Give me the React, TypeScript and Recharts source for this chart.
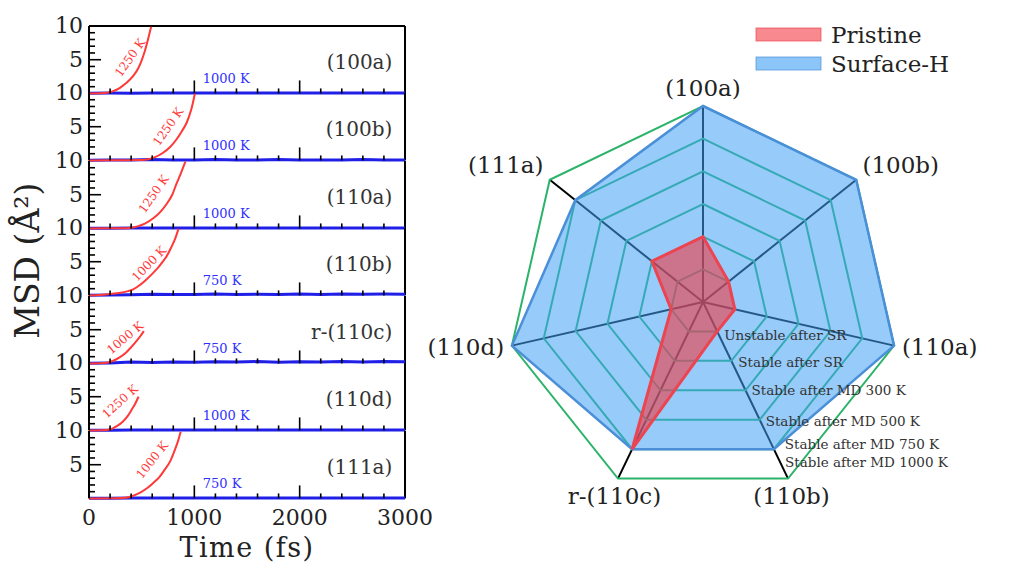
import React from 'react';
import {
  LineChart, Line, XAxis, YAxis, ReferenceDot, ReferenceLine,
  RadarChart, Radar, PolarGrid, PolarAngleAxis, PolarRadiusAxis, Legend,
} from 'recharts';

// ---------- data ----------
const facets = ['(100a)', '(100b)', '(110a)', '(110b)', 'r-(110c)', '(110d)', '(111a)'];
const pristineLevel = [2, 1, 1, 1, 5, 1, 2];
const surfaceHLevel = [6, 6, 6, 5, 5, 6, 5];
const stabilityLevels = [
  'Unstable after SR',
  'Stable after SR',
  'Stable after MD 300 K',
  'Stable after MD 500 K',
  'Stable after MD 750 K',
  'Stable after MD 1000 K',
];

const pristineTemp = ['1250 K', '1250 K', '1250 K', '1000 K', '1000 K', '1250 K', '1000 K'];
const surfaceHTemp = ['1000 K', '1000 K', '1000 K', '750 K', '750 K', '1000 K', '750 K'];

// MSD curves: [time (fs), MSD (Å²)]
const msdPristine100a = [[0, 0], [100, 0.02], [170, 0.1], [230, 0.35], [290, 0.8], [350, 1.5], [420, 2.6], [470, 3.8], [500, 4.9], [530, 6.3], [560, 8.0], [590, 9.9]];
const msdPristine100b = [[0, 0], [300, 0.02], [450, 0.05], [550, 0.15], [620, 0.45], [700, 1.1], [770, 2.0], [830, 3.1], [880, 4.3], [930, 5.7], [970, 7.5], [1005, 9.9]];
const msdPristine110a = [[0, 0], [300, 0.02], [400, 0.1], [460, 0.3], [530, 0.7], [610, 1.5], [680, 2.5], [740, 3.7], [790, 5.0], [830, 6.6], [870, 8.1], [915, 9.9]];
const msdPristine110b = [[0, 0], [100, 0.05], [200, 0.2], [300, 0.4], [360, 0.6], [420, 0.9], [480, 1.5], [540, 2.3], [600, 3.2], [650, 4.0], [700, 5.0], [740, 5.9], [780, 7.1], [820, 8.5], [850, 9.9]];
const msdPristine110c = [[0, 0], [100, 0.02], [170, 0.1], [230, 0.4], [290, 0.9], [350, 1.6], [400, 2.4], [450, 3.3], [490, 4.1], [520, 4.8]];
const msdPristine110d = [[0, 0], [120, 0.02], [200, 0.15], [260, 0.6], [320, 1.3], [370, 2.2], [410, 3.2], [440, 4.0], [470, 5.0]];
const msdPristine111a = [[0, 0], [250, 0.02], [350, 0.1], [420, 0.4], [490, 0.9], [550, 1.5], [610, 2.3], [670, 3.2], [720, 4.3], [770, 5.5], [810, 7.0], [845, 8.5], [870, 9.9]];

const msdSurfaceH100a = [[0, 0.02], [200, 0.05], [400, 0.04], [600, 0.06], [800, 0.05], [1000, 0.07], [1200, 0.05], [1400, 0.06], [1600, 0.05], [1800, 0.07], [2000, 0.06], [2200, 0.05], [2400, 0.07], [2600, 0.06], [2800, 0.05], [3000, 0.06]];
const msdSurfaceH100b = [[0, 0.02], [200, 0.05], [400, 0.06], [600, 0.12], [800, 0.06], [1000, 0.08], [1200, 0.12], [1400, 0.06], [1600, 0.07], [1800, 0.12], [2000, 0.07], [2200, 0.06], [2400, 0.08], [2600, 0.12], [2800, 0.06], [3000, 0.07]];
const msdSurfaceH110a = [[0, 0.02], [200, 0.04], [400, 0.05], [600, 0.06], [800, 0.05], [1000, 0.06], [1200, 0.07], [1400, 0.05], [1600, 0.06], [1800, 0.06], [2000, 0.05], [2200, 0.07], [2400, 0.06], [2600, 0.05], [2800, 0.06], [3000, 0.06]];
const msdSurfaceH110b = [[0, 0.02], [200, 0.08], [400, 0.1], [600, 0.18], [800, 0.12], [1000, 0.15], [1200, 0.22], [1400, 0.14], [1600, 0.18], [1800, 0.12], [2000, 0.2], [2200, 0.15], [2400, 0.22], [2600, 0.16], [2800, 0.2], [3000, 0.18]];
const msdSurfaceH110c = [[0, 0.02], [200, 0.08], [400, 0.2], [600, 0.15], [800, 0.22], [1000, 0.18], [1200, 0.25], [1400, 0.2], [1600, 0.28], [1800, 0.18], [2000, 0.25], [2200, 0.2], [2400, 0.28], [2600, 0.22], [2800, 0.3], [3000, 0.25]];
const msdSurfaceH110d = [[0, 0.02], [200, 0.04], [400, 0.05], [600, 0.05], [800, 0.06], [1000, 0.05], [1200, 0.06], [1400, 0.05], [1600, 0.06], [1800, 0.05], [2000, 0.06], [2200, 0.05], [2400, 0.06], [2600, 0.05], [2800, 0.06], [3000, 0.05]];
const msdSurfaceH111a = [[0, 0.02], [200, 0.04], [400, 0.05], [600, 0.05], [800, 0.06], [1000, 0.05], [1200, 0.06], [1400, 0.06], [1600, 0.05], [1800, 0.06], [2000, 0.05], [2200, 0.06], [2400, 0.05], [2600, 0.06], [2800, 0.05], [3000, 0.06]];

const msdPristine = [msdPristine100a, msdPristine100b, msdPristine110a, msdPristine110b, msdPristine110c, msdPristine110d, msdPristine111a];
const msdSurfaceH = [msdSurfaceH100a, msdSurfaceH100b, msdSurfaceH110a, msdSurfaceH110b, msdSurfaceH110c, msdSurfaceH110d, msdSurfaceH111a];

const xTicks = [0, 200, 400, 600, 800, 1000, 1200, 1400, 1600, 1800, 2000, 2200, 2400, 2600, 2800, 3000];
const xLabelTicks = [0, 1000, 2000, 3000];
const yTicks = [1, 2, 3, 4, 5, 6, 7, 8, 9, 10];
const yLabelTicks = [5, 10];

// ---------- annotation placement (data space) ----------
const redLabelSpot = [
  { t: 390, v: 5.3, angle: -55 },
  { t: 752, v: 5.0, angle: -55 },
  { t: 615, v: 5.1, angle: -55 },
  { t: 571, v: 4.7, angle: -46 },
  { t: 343, v: 3.8, angle: -40 },
  { t: 295, v: 4.3, angle: -42 },
  { t: 600, v: 5.7, angle: -52 },
];
const blueLabelSpot = { t: 1080, v: 2.2 };
const nameSpot = { t: 2880, v: 4.7 };

// ---------- styles ----------
const SERIF = '"DejaVu Serif", serif';
const RED = '#ff3838';
const BLUE = '#1f1fe8';
const PANEL_TOP = 26;
const PANEL_H = 67.43;
const M_TOP = 15;
const M_BOTTOM = 14;
const X_AXIS_H = 1;

const toPoints = (arr: number[][]) => arr.map(([t, v]) => ({ t, v }));

const renderXTick = (p: any, showLabel: boolean) => {
  const { x, payload } = p;
  const y = p.y;
  const v = payload.value;
  const major = v % 1000 === 0;
  return (
    <g>
      {v > 0 && v < 3000 && (
        <line x1={x} x2={x} y1={y} y2={y - (major ? 13 : 5)} stroke="#000" strokeWidth={1.6} />
      )}
      {showLabel && xLabelTicks.includes(v) && (
        <text x={x} y={y + 19} textAnchor="middle" dominantBaseline="central" fontFamily={SERIF} fontSize={22} fill="#222">
          {v}
        </text>
      )}
    </g>
  );
};

const renderYTick = (p: any) => {
  const { x, y, payload } = p;
  const v = payload.value;
  const major = v === 5;
  return (
    <g>
      {v < 10 && <line x1={x} x2={x + (major ? 12 : 6)} y1={y} y2={y} stroke="#000" strokeWidth={1.6} />}
      {yLabelTicks.includes(v) && (
        <text x={x - 6} y={y} textAnchor="end" dominantBaseline="central" fontFamily={SERIF} fontSize={22} fill="#222">
          {v}
        </text>
      )}
    </g>
  );
};

const centerOf = (vb: any) => ({ x: vb.x + (vb.width || 0) / 2, y: vb.y + (vb.height || 0) / 2 });

function MsdPanel({ index }: { index: number }) {
  const top = PANEL_TOP + index * PANEL_H;
  const isFirst = index === 0;
  const isLast = index === facets.length - 1;
  const spot = redLabelSpot[index];
  return (
    <div style={{ position: 'absolute', left: 0, top: top - M_TOP }}>
      <LineChart width={460} height={PANEL_H + M_TOP + M_BOTTOM + X_AXIS_H} margin={{ top: M_TOP, right: 55, bottom: M_BOTTOM, left: 0 }}>
        <XAxis
          xAxisId="x"
          type="number"
          dataKey="t"
          domain={[0, 3000]}
          ticks={xTicks}
          interval={0}
          height={X_AXIS_H}
          tickSize={0}
          tickMargin={0}
          tickLine={false}
          axisLine={false}
          tick={(p: any) => renderXTick(p, isLast)}
          label={
            isLast
              ? (lp: any) => {
                  const vb = lp.viewBox;
                  return (
                    <text x={vb.x + vb.width / 2} y={vb.y + 49} textAnchor="middle" dominantBaseline="central" fontFamily={SERIF} fontSize={27} letterSpacing={1.5} fill="#222">
                      Time (fs)
                    </text>
                  );
                }
              : undefined
          }
        />
        <YAxis
          yAxisId="y"
          type="number"
          domain={[0, 10]}
          ticks={yTicks}
          interval={0}
          width={89}
          tickSize={0}
          tickMargin={0}
          tickLine={false}
          axisLine={{ stroke: '#000', strokeWidth: 2 }}
          tick={renderYTick}
          label={
            index === 3
              ? (lp: any) => {
                  const vb = lp.viewBox;
                  const cx = 27;
                  const cy = vb.y + vb.height / 2 - 1;
                  return (
                    <text x={cx} y={cy} transform={`rotate(-90 ${cx} ${cy})`} textAnchor="middle" dominantBaseline="central" fontFamily={SERIF} fontSize={33} fill="#222">
                      MSD (Å²)
                    </text>
                  );
                }
              : undefined
          }
        />
        <ReferenceLine xAxisId="x" yAxisId="y" x={3000} stroke="#000" strokeWidth={2} />
        {isFirst && <ReferenceLine xAxisId="x" yAxisId="y" y={10} stroke="#000" strokeWidth={2} />}
        <Line xAxisId="x" yAxisId="y" data={toPoints(msdSurfaceH[index])} dataKey="v" type="linear" stroke={BLUE} strokeWidth={3} dot={false} isAnimationActive={false} />
        <Line xAxisId="x" yAxisId="y" data={toPoints(msdPristine[index])} dataKey="v" type="monotone" stroke={RED} strokeWidth={2} dot={false} isAnimationActive={false} />
        <ReferenceDot
          xAxisId="x"
          yAxisId="y"
          x={spot.t}
          y={spot.v}
          r={1}
          fill="none"
          stroke="none"
          label={(lp: any) => {
            const c = centerOf(lp.viewBox);
            return (
              <text x={c.x} y={c.y} transform={`rotate(${spot.angle} ${c.x} ${c.y})`} textAnchor="middle" dominantBaseline="central" fontFamily={SERIF} fontSize={12} fill={RED}>
                {pristineTemp[index]}
              </text>
            );
          }}
        />
        <ReferenceDot
          xAxisId="x"
          yAxisId="y"
          x={blueLabelSpot.t}
          y={blueLabelSpot.v}
          r={1}
          fill="none"
          stroke="none"
          label={(lp: any) => {
            const c = centerOf(lp.viewBox);
            return (
              <text x={c.x} y={c.y} textAnchor="start" dominantBaseline="central" fontFamily={SERIF} fontSize={13} fill="#3030ff">
                {surfaceHTemp[index]}
              </text>
            );
          }}
        />
        <ReferenceDot
          xAxisId="x"
          yAxisId="y"
          x={nameSpot.t}
          y={nameSpot.v}
          r={1}
          fill="none"
          stroke="none"
          label={(lp: any) => {
            const c = centerOf(lp.viewBox);
            return (
              <text x={c.x} y={c.y} textAnchor="end" dominantBaseline="central" fontFamily={SERIF} fontSize={20} fill="#333">
                {facets[index]}
              </text>
            );
          }}
        />
      </LineChart>
    </div>
  );
}

// ---------- radar ----------
const ringKeys = stabilityLevels.map((_, k) => `ring${k + 1}`);
const radarData = facets.map((f, i) => {
  const row: any = { facet: f, Pristine: pristineLevel[i], 'Surface-H': surfaceHLevel[i] };
  ringKeys.forEach((key, k) => {
    row[key] = k + 1;
  });
  return row;
});

const RING_GREEN = '#2cb36a';
const SH_FILL = '#3fa0f5';
const SH_STROKE = '#4a8fd8';
const PR_FILL = '#f23a45';
const PR_STROKE = '#ec4450';
const seriesStyle: Record<string, { fill: string; stroke: string; opacity: number }> = {
  Pristine: { fill: PR_FILL, stroke: PR_STROKE, opacity: 0.6 },
  'Surface-H': { fill: SH_FILL, stroke: SH_STROKE, opacity: 0.6 },
};
const ringLabelNudge = [[7, 4], [7, 1], [6, 0], [6, 1], [11, -5], [-3, -17]];
const LABEL_AXIS_INDEX = 3;

const renderAngleTick = (p: any) => {
  const th = (p.payload.coordinate * Math.PI) / 180;
  const c = Math.cos(th);
  const s = Math.sin(th);
  const anchor = c > 0.5 ? 'start' : c < -0.5 ? 'end' : 'middle';
  const y = s > 0.3 ? p.y - 10 : s < -0.3 ? p.y + 10 : p.y;
  return (
    <text x={p.x} y={y} textAnchor={anchor} dominantBaseline="central" fontFamily={SERIF} fontSize={23} fill="#222">
      {p.payload.value}
    </text>
  );
};

const renderLegend = (props: any) => {
  const names = ['Pristine', 'Surface-H'].filter((n) => (props.payload || []).some((e: any) => e.value === n));
  return (
    <svg width={240} height={64} style={{ overflow: 'visible' }}>
      {names.map((n, i) => {
        const st = seriesStyle[n];
        return (
          <g key={n}>
            <rect x={0} y={8 + i * 29} width={65} height={13} fill={st.fill} fillOpacity={st.opacity} stroke={st.stroke} strokeOpacity={0.7} strokeWidth={1} />
            <text x={75} y={14.5 + i * 29} dominantBaseline="central" fontFamily={SERIF} fontSize={23} fill="#222">
              {n}
            </text>
          </g>
        );
      })}
    </svg>
  );
};

function StabilityRadar() {
  return (
    <div style={{ position: 'absolute', left: 480, top: 0 }}>
      <RadarChart width={534} height={573} cx={223} cy={302} outerRadius={196} data={radarData} margin={{ top: 0, right: 0, bottom: 0, left: 0 }}>
        <PolarGrid gridType="polygon" polarRadius={[]} stroke="#000" strokeWidth={2} />
        <PolarAngleAxis dataKey="facet" tick={renderAngleTick} tickLine={false} axisLine={false} />
        <PolarRadiusAxis domain={[0.4, 6]} tick={false} axisLine={false} tickCount={2} />
        {ringKeys.map((key) => (
          <Radar key={key} dataKey={key} stroke={RING_GREEN} strokeWidth={2} fill="none" fillOpacity={0} dot={false} legendType="none" isAnimationActive={false} />
        ))}
        <Radar name="Surface-H" dataKey="Surface-H" stroke={SH_STROKE} strokeWidth={2.5} fill={SH_FILL} fillOpacity={0.55} dot={false} isAnimationActive={false} />
        <Radar name="Pristine" dataKey="Pristine" stroke={PR_STROKE} strokeWidth={3} fill={PR_FILL} fillOpacity={0.6} dot={false} isAnimationActive={false} />
        {ringKeys.map((key, k) => (
          <Radar
            key={`lbl-${key}`}
            dataKey={key}
            stroke="none"
            fill="none"
            fillOpacity={0}
            legendType="none"
            isAnimationActive={false}
            dot={(p: any) =>
              p.index === LABEL_AXIS_INDEX ? (
                <text key={`t-${key}`} x={p.cx + ringLabelNudge[k][0]} y={p.cy + ringLabelNudge[k][1]} dominantBaseline="central" fontFamily={SERIF} fontSize={13.5} fill="#333">
                  {stabilityLevels[k]}
                </text>
              ) : (
                <g key={`g-${key}-${p.index}`} />
              )
            }
          />
        ))}
        <Legend content={renderLegend} wrapperStyle={{ position: 'absolute', left: 276, top: 20, bottom: 'auto', width: 240, height: 64 }} />
      </RadarChart>
    </div>
  );
}

export default function App() {
  return (
    <div style={{ position: 'absolute', left: 0, top: 0, width: 1014, height: 573, background: '#fff' }}>
      <style>{'.recharts-surface{overflow:visible}'}</style>
      {facets.map((_, i) => (
        <MsdPanel key={i} index={i} />
      ))}
      <StabilityRadar />
    </div>
  );
}
